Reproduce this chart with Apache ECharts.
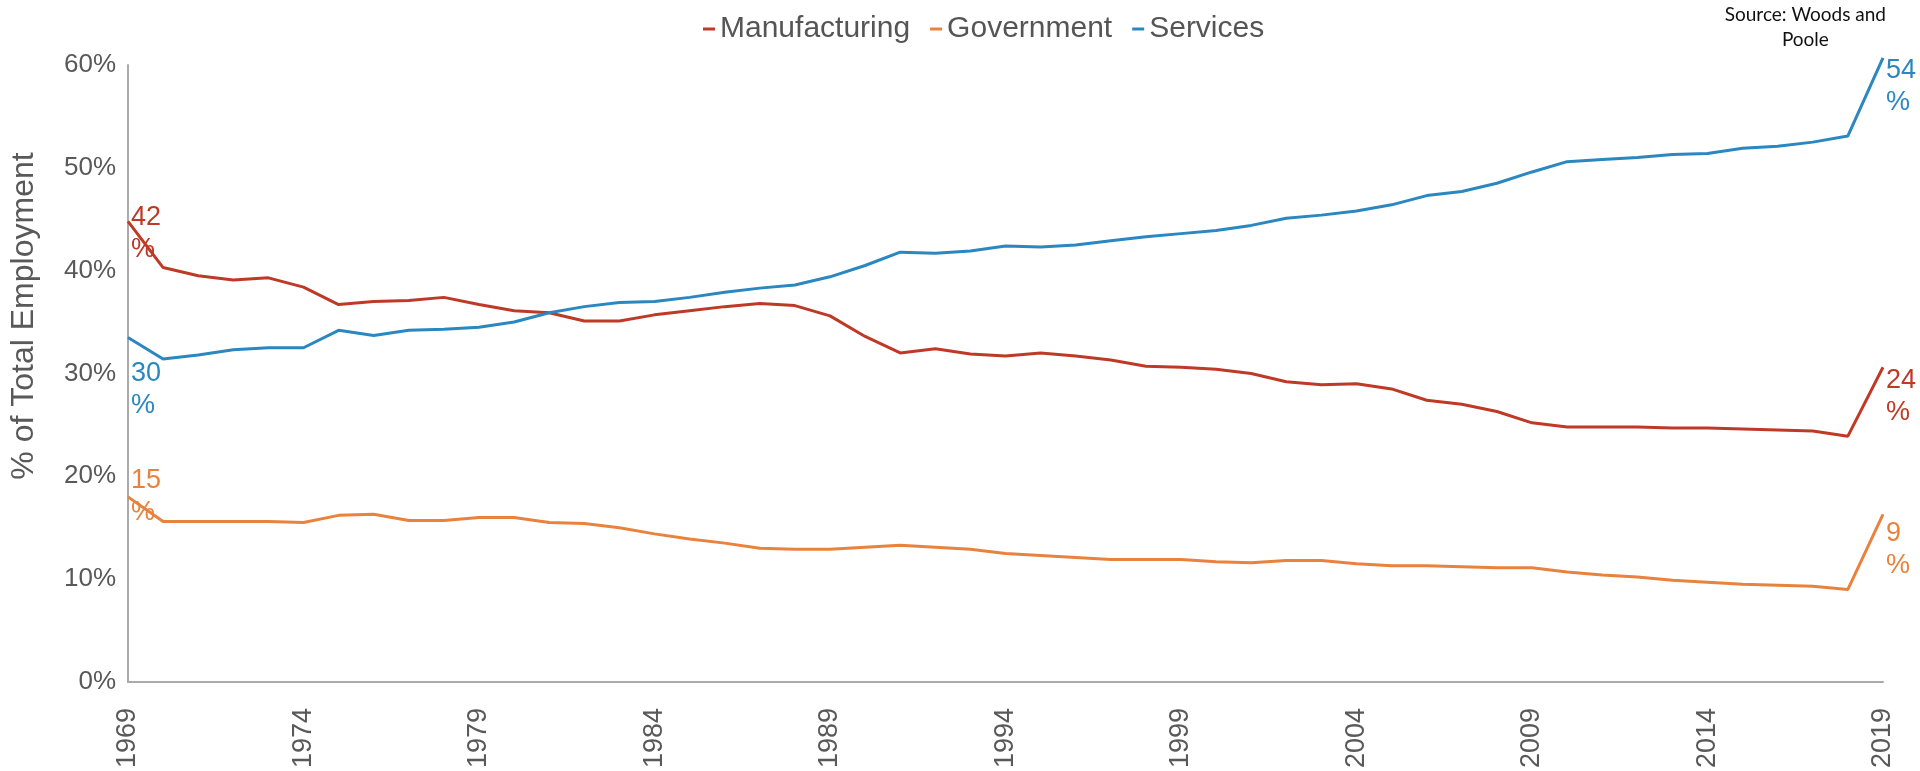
<!DOCTYPE html>
<html>
<head>
<meta charset="utf-8">
<script src="https://cdn.jsdelivr.net/npm/echarts@6/dist/echarts.min.js"></script>
<style>
html,body{margin:0;padding:0;background:#fff;}
#chart{width:1920px;height:771px;}
</style>
</head>
<body>
<div id="chart"></div>
<script>
const years = [];
for (let y = 1969; y <= 2019; y++) years.push(String(y));

const seriesNames = ['Manufacturing', 'Government', 'Services'];

const manufacturing = [44.8, 40.3, 39.5, 39.1, 39.3, 38.4, 36.7, 37.0, 37.1, 37.4, 36.7, 36.1, 35.9, 35.1, 35.1, 35.7,
  36.1, 36.5, 36.8, 36.6, 35.6, 33.6, 32.0, 32.4, 31.9, 31.7, 32.0, 31.7, 31.3, 30.7, 30.6, 30.4, 30.0, 29.2, 28.9, 29.0,
  28.5, 27.4, 27.0, 26.3, 25.2, 24.8, 24.8, 24.8, 24.7, 24.7, 24.6, 24.5, 24.4, 23.9, 30.6];

const government = [18.0, 15.6, 15.6, 15.6, 15.6, 15.5, 16.2, 16.3, 15.7, 15.7, 16.0, 16.0, 15.5, 15.4, 15.0, 14.4,
  13.9, 13.5, 13.0, 12.9, 12.9, 13.1, 13.3, 13.1, 12.9, 12.5, 12.3, 12.1, 11.9, 11.9, 11.9, 11.7, 11.6, 11.8, 11.8, 11.5,
  11.3, 11.3, 11.2, 11.1, 11.1, 10.7, 10.4, 10.2, 9.9, 9.7, 9.5, 9.4, 9.3, 9.0, 16.3];

const services = [33.5, 31.4, 31.8, 32.3, 32.5, 32.5, 34.2, 33.7, 34.2, 34.3, 34.5, 35.0, 35.9, 36.5, 36.9, 37.0,
  37.4, 37.9, 38.3, 38.6, 39.4, 40.5, 41.8, 41.7, 41.9, 42.4, 42.3, 42.5, 42.9, 43.3, 43.6, 43.9, 44.4, 45.1, 45.4, 45.8,
  46.4, 47.3, 47.7, 48.5, 49.6, 50.6, 50.8, 51.0, 51.3, 51.4, 51.9, 52.1, 52.5, 53.1, 60.7];

const startLabels = ['42', '15', '30'];
const endLabels = ['24', '9', '54'];

const yTicks = [0, 10, 20, 30, 40, 50, 60];

const colors = ['#BE3A26', '#E9823C', '#2A87C0'];
const startOffsets = [[3, 12], [3, 0], [3, 52]];
const endOffsets = [[3, 29], [3, 35], [3, 29]];

const FONT = '"Liberation Sans", Arial, sans-serif';

function buildData(values, idx) {
  return values.map((v, i) => {
    if (i === 0 || i === values.length - 1) {
      const isStart = i === 0;
      return {
        value: v,
        label: {
          show: true,
          position: 'right',
          distance: 0,
          offset: isStart ? startOffsets[idx] : endOffsets[idx],
          formatter: (isStart ? startLabels[idx] : endLabels[idx]) + '\n%',
          color: colors[idx],
          fontFamily: FONT,
          fontSize: 27,
          lineHeight: 32,
          align: 'left'
        }
      };
    }
    return v;
  });
}

const allValues = [manufacturing, government, services];

const chart = echarts.init(document.getElementById('chart'), null, {renderer: 'canvas'});
chart.setOption({
  animation: false,
  backgroundColor: '#ffffff',
  graphic: [{
    type: 'text',
    right: 34,
    top: 2,
    style: {
      text: 'Source: Woods and\nPoole',
      fill: '#111',
      font: '19px Lato, "Open Sans", sans-serif',
      lineHeight: 25,
      textAlign: 'center'
    }
  }, {
    type: 'text',
    x: 24,
    y: 316,
    rotation: Math.PI / 2,
    style: {
      text: '% of Total Employment',
      fill: '#595959',
      font: '32px "Liberation Sans", Arial, sans-serif',
      textAlign: 'center',
      textVerticalAlign: 'middle'
    }
  }],
  legend: {
    left: 698,
    top: 9,
    icon: 'rect',
    itemWidth: 12,
    itemHeight: 3,
    itemGap: 20,
    textStyle: {color: '#555555', fontSize: 30, fontFamily: FONT},
    data: seriesNames
  },
  grid: {left: 128, right: 37, top: 65, bottom: 89, containLabel: false},
  xAxis: {
    type: 'category',
    data: years,
    boundaryGap: false,
    axisLine: {lineStyle: {color: '#AAAAAA', width: 2}},
    axisTick: {show: false},
    splitLine: {show: false},
    axisLabel: {
      interval: 4,
      rotate: 90,
      margin: 26,
      color: '#595959',
      fontSize: 27,
      fontFamily: FONT
    }
  },
  yAxis: {
    type: 'value',
    min: yTicks[0],
    max: yTicks[yTicks.length - 1],
    interval: 10,
    axisLine: {show: true, lineStyle: {color: '#AAAAAA', width: 2}},
    axisTick: {show: false},
    splitLine: {show: false},
    axisLabel: {
      margin: 12,
      color: '#595959',
      fontSize: 26,
      fontFamily: FONT,
      formatter: '{value}%'
    }
  },
  series: seriesNames.map((name, idx) => ({
    name: name,
    type: 'line',
    data: buildData(allValues[idx], idx),
    color: colors[idx],
    clip: false,
    showSymbol: true,
    symbol: 'circle',
    symbolSize: 0,
    lineStyle: {width: 3, color: colors[idx]},
    itemStyle: {color: colors[idx]},
    z: idx === 2 ? 3 : 2
  }))
});
</script>
</body>
</html>
